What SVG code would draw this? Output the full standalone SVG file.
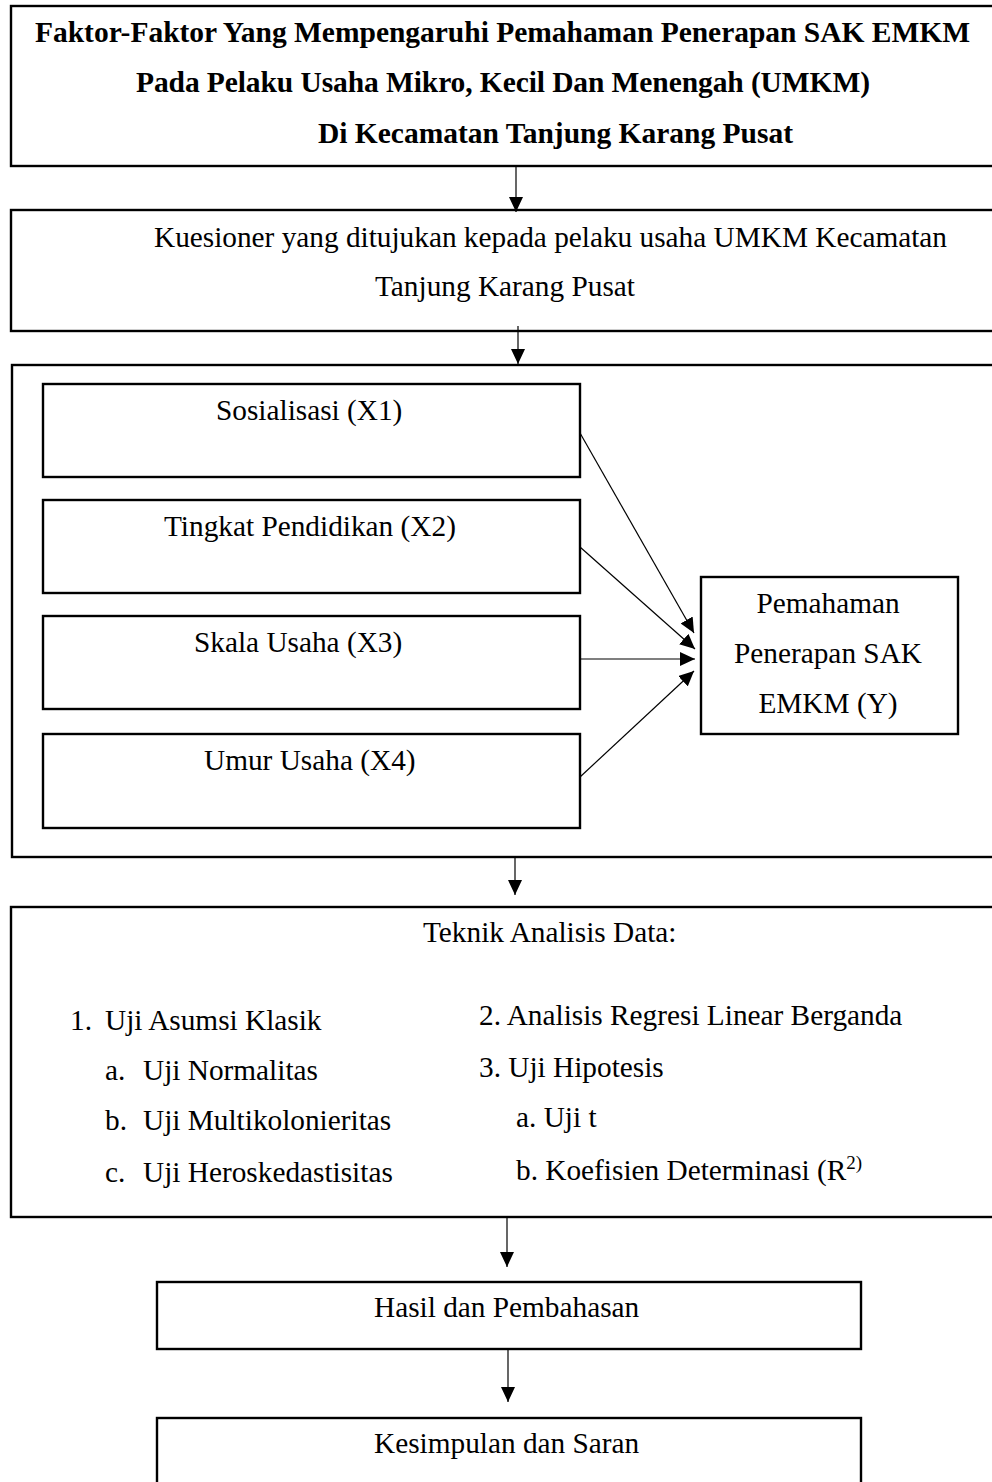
<svg xmlns="http://www.w3.org/2000/svg" width="992" height="1482" viewBox="0 0 992 1482">
<defs>
<style>
.box{fill:#fff;stroke:#000;stroke-width:2.4}
.t{font-family:"Liberation Serif","Times New Roman",serif;font-size:29.3px;fill:#000}
.b{font-weight:bold;font-size:29.5px}
.c{text-anchor:middle}
.ln{stroke:#000;stroke-width:1.2;fill:none;marker-end:url(#ah)}
</style>
<marker id="ah" markerUnits="userSpaceOnUse" markerWidth="15" markerHeight="14" refX="15" refY="7" orient="auto">
<path d="M0,0 L15,7 L0,14 z" fill="#000"/>
</marker>
</defs>
<rect width="992" height="1482" fill="#fff"/>
<g id="judul">
<rect class="box" x="11" y="6" width="1000" height="160"/>
<text class="t b" x="35" y="42" textLength="935">Faktor-Faktor Yang Mempengaruhi Pemahaman Penerapan SAK EMKM</text>
<text class="t b" x="136" y="92" textLength="734">Pada Pelaku Usaha Mikro, Kecil Dan Menengah (UMKM)</text>
<text class="t b" x="318" y="143" textLength="475">Di Kecamatan Tanjung Karang Pusat</text>
</g>
<g id="kuesioner">
<rect class="box" x="11" y="210" width="1000" height="121"/>
<text class="t" x="154" y="247" textLength="793">Kuesioner yang ditujukan kepada pelaku usaha UMKM Kecamatan</text>
<text class="t" x="375" y="296">Tanjung Karang Pusat</text>
</g>
<g id="model">
<rect class="box" x="12" y="365" width="1000" height="492"/>
</g>
<g id="x1">
<rect class="box" x="43" y="384" width="537" height="93"/>
<text class="t" x="216" y="420">Sosialisasi (X1)</text>
</g>
<g id="x2">
<rect class="box" x="43" y="500" width="537" height="93"/>
<text class="t" x="164" y="536">Tingkat Pendidikan (X2)</text>
</g>
<g id="x3">
<rect class="box" x="43" y="616" width="537" height="93"/>
<text class="t" x="194" y="652">Skala Usaha (X3)</text>
</g>
<g id="x4">
<rect class="box" x="43" y="734" width="537" height="94"/>
<text class="t" x="204" y="770">Umur Usaha (X4)</text>
</g>
<g id="y">
<rect class="box" x="701" y="577" width="257" height="157"/>
<text class="t c" x="828" y="613">Pemahaman</text>
<text class="t c" x="828" y="663">Penerapan SAK</text>
<text class="t c" x="828" y="713">EMKM (Y)</text>
</g>
<g id="analisis">
<rect class="box" x="11" y="907" width="1000" height="310"/>
<text class="t" x="423" y="942">Teknik Analisis Data:</text>
<text class="t" x="70" y="1030">1.</text>
<text class="t" x="105" y="1030">Uji Asumsi Klasik</text>
<text class="t" x="105" y="1080">a.</text>
<text class="t" x="143" y="1080">Uji Normalitas</text>
<text class="t" x="105" y="1130">b.</text>
<text class="t" x="143" y="1130">Uji Multikolonieritas</text>
<text class="t" x="105" y="1182">c.</text>
<text class="t" x="143" y="1182">Uji Heroskedastisitas</text>
<text class="t" x="479" y="1025">2. Analisis Regresi Linear Berganda</text>
<text class="t" x="479" y="1077">3. Uji Hipotesis</text>
<text class="t" x="516" y="1127">a. Uji t</text>
<text class="t" x="516" y="1180">b. Koefisien Determinasi (R<tspan font-size="19" dy="-11">2)</tspan></text>
</g>
<g id="hasil">
<rect class="box" x="157" y="1282" width="704" height="67"/>
<text class="t" x="374" y="1317">Hasil dan Pembahasan</text>
</g>
<g id="kesimpulan">
<rect class="box" x="157" y="1418" width="704" height="100"/>
<text class="t" x="374" y="1453">Kesimpulan dan Saran</text>
</g>
<g id="connectors">
<line class="ln" x1="516" y1="167" x2="516" y2="212"/>
<line class="ln" x1="518" y1="326" x2="518" y2="364"/>
<line class="ln" x1="580" y1="433" x2="694" y2="633"/>
<line class="ln" x1="580" y1="547" x2="695" y2="649"/>
<line class="ln" x1="580" y1="659" x2="695" y2="659"/>
<line class="ln" x1="580" y1="777" x2="694" y2="671"/>
<line class="ln" x1="515" y1="858" x2="515" y2="895"/>
<line class="ln" x1="507" y1="1218" x2="507" y2="1267"/>
<line class="ln" x1="508" y1="1350" x2="508" y2="1402"/>
</g>
</svg>
